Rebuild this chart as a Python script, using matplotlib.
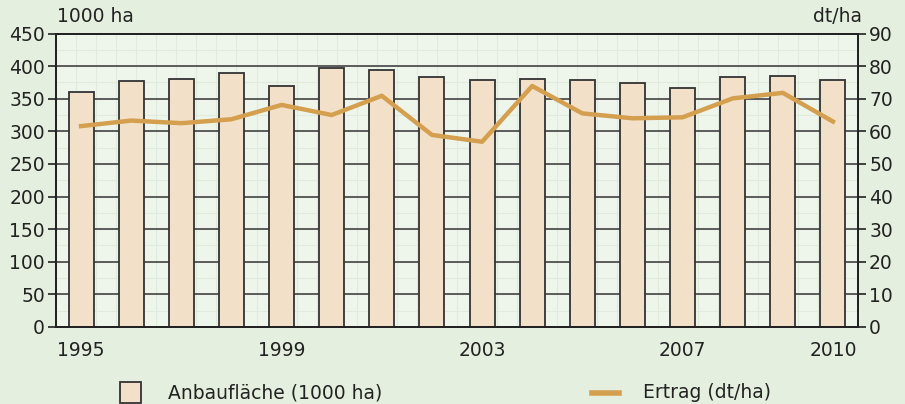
import matplotlib
matplotlib.use("Agg")
import matplotlib.pyplot as plt
from matplotlib.patches import Rectangle
from matplotlib.lines import Line2D
import numpy as np

plt.rcParams['font.family'] = ['DejaVu Sans']

years = list(range(1995, 2011))
anbauflaeche = [361, 377, 380, 390, 369, 397, 394, 383, 378, 380, 379, 374, 366, 383, 385, 378]
ertrag = [61.6, 63.3, 62.5, 63.7, 68.1, 65.0, 70.9, 58.9, 56.8, 73.9, 65.5, 64.0, 64.3, 70.1, 71.8, 63.0]
xtick_years = [1995, 1999, 2003, 2007, 2010]
left_ticks = list(range(0, 451, 50))
right_ticks = list(range(0, 91, 10))

fig_bg = '#e4efdf'
ax_bg = '#eef6ec'
bar_color = '#f2e0c8'
line_color = '#d4a050'
txt = '#222222'
fs = 13.5

fig = plt.figure(figsize=(9.05, 4.04), dpi=100)
fig.patch.set_facecolor(fig_bg)
ax = fig.add_axes([56/905, 1-327/404, (858-56)/905, (327-33.5)/404])
ax.set_facecolor(ax_bg)

x = np.arange(len(years))
ax.set_xlim(-0.5, len(years) - 0.5)
ax.set_ylim(0, 450)

# minor faint grid
for v in np.arange(-0.5, len(years) - 0.5, 0.4):
    ax.axvline(v, color='#e0ebdc', lw=0.8, zorder=0)
for v in np.arange(25, 450, 25):
    ax.axhline(v, color='#e0ebdc', lw=0.8, zorder=0)
# major horizontal grid
for v in left_ticks[1:-1]:
    ax.axhline(v, color='#505050', lw=1.3, zorder=1)

ax.bar(x, anbauflaeche, width=0.5, color=bar_color, edgecolor='#333333', linewidth=1.3, zorder=2)

ax.set_yticks(left_ticks)
ax.set_xticks([years.index(y) for y in xtick_years])
ax.set_xticklabels([str(y) for y in xtick_years])
ax.tick_params(axis='x', length=0, labelsize=fs, pad=10, colors=txt)
ax.tick_params(axis='y', length=6, width=1.2, labelsize=fs, pad=2, colors=txt, direction='out')
for s in ax.spines.values():
    s.set_color(txt)
    s.set_linewidth(1.3)

ax2 = ax.twinx()
ax2.set_ylim(0, 90)
ax2.set_yticks(right_ticks)
ax2.plot(x, ertrag, color=line_color, lw=3.2, solid_joinstyle='round', zorder=3)
ax2.tick_params(axis='y', length=6, width=1.2, labelsize=fs, pad=2, colors=txt, direction='out')
for s in ax2.spines.values():
    s.set_color(txt)
    s.set_linewidth(1.3)

fig.text(57/905, 1-17/404, '1000 ha', fontsize=fs, color=txt, ha='left', va='center')
fig.text(862/905, 1-17/404, 'dt/ha', fontsize=fs, color=txt, ha='right', va='center')

# legend
fig.patches.append(Rectangle((120/905, 1-403/404), 21/905, 21/404, transform=fig.transFigure,
                             facecolor=bar_color, edgecolor='#333333', lw=1.3))
fig.text(168/905, 1-393/404, 'Anbaufläche (1000 ha)', fontsize=fs, color=txt, ha='left', va='center')
fig.lines.append(Line2D([592/905, 619/905], [1-393/404, 1-393/404], transform=fig.transFigure,
                        color=line_color, lw=4))
fig.text(643/905, 1-393/404, 'Ertrag (dt/ha)', fontsize=fs, color=txt, ha='left', va='center')

fig.savefig('out.png', dpi=100, facecolor=fig_bg)
